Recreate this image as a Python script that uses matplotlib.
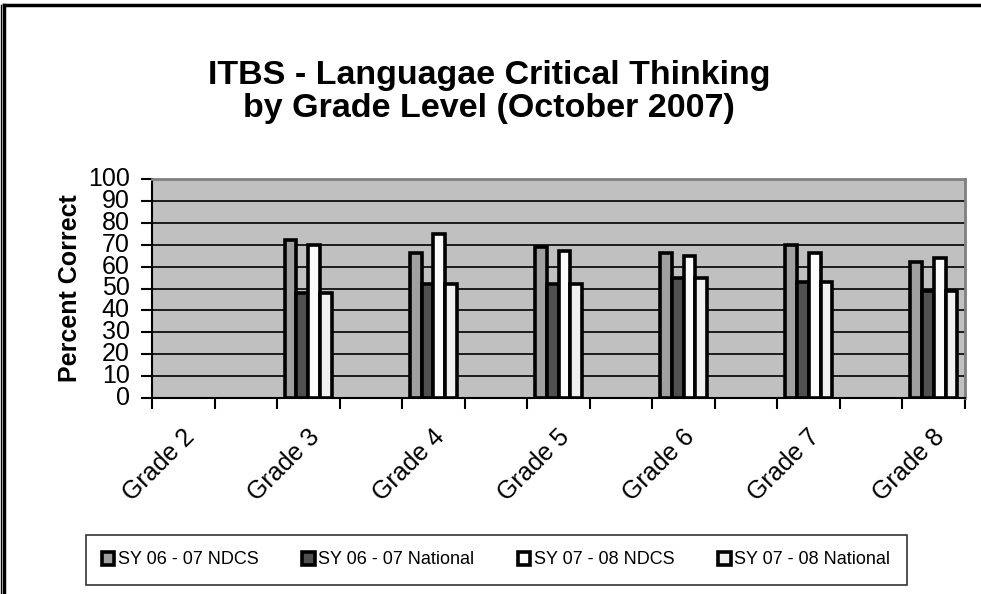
import numpy as np
import matplotlib.pyplot as plt
import matplotlib.transforms as mtransforms
from matplotlib.lines import Line2D

plt.rcParams['font.family'] = ['Liberation Sans', 'DejaVu Sans']

grades = ['Grade 2', 'Grade 3', 'Grade 4', 'Grade 5', 'Grade 6', 'Grade 7', 'Grade 8']
ndcs_0607 = [np.nan, 72, 66, 69, 66, 70, 62]
national_0607 = [np.nan, 48, 52, 52, 55, 53, 49]
ndcs_0708 = [np.nan, 70, 75, 67, 65, 66, 64]
national_0708 = [np.nan, 48, 52, 52, 55, 53, 49]

series = [
    ('SY 06 - 07 NDCS', ndcs_0607, '#a0a0a0'),
    ('SY 06 - 07 National', national_0607, '#505050'),
    ('SY 07 - 08 NDCS', ndcs_0708, '#fbfbfb'),
    ('SY 07 - 08 National', national_0708, '#f0f0f0'),
]

fig = plt.figure(figsize=(9.81, 5.94), dpi=100)
ax = fig.add_axes([152 / 981, 1 - 398 / 594, 813 / 981, 219 / 594])
ax.set_facecolor('#c0c0c0')

# the sheet has an empty column between each grade, so grades sit on every other slot
x = np.arange(len(grades)) * 2
w = 0.19
for i, (name, vals, col) in enumerate(series):
    ax.bar(x + (i - 1.5) * w, vals, w, color=col, edgecolor='black',
           linewidth=2.6, label=name, zorder=3)

ax.set_xlim(-0.5, x[-1] + 0.5)
ax.set_ylim(0, 100)
ax.set_yticks(range(0, 101, 10))
ax.yaxis.grid(True, color='black', linewidth=1.2, zorder=1)

ax.set_xticks(x)
ax.set_xticklabels(grades, rotation=45, ha='right', rotation_mode='anchor', fontsize=18)
ax.set_xticks(np.arange(-0.5, x[-1] + 1), minor=True)
ax.tick_params(axis='x', which='major', length=0, pad=19)
ax.tick_params(axis='x', which='minor', length=8, width=1.5, direction='out')
ax.tick_params(axis='y', length=8, width=1.5, labelsize=18, pad=8)
shift = mtransforms.ScaledTranslation(-1 / 100, 0, fig.dpi_scale_trans)
for lab in ax.get_xticklabels():
    lab.set_transform(lab.get_transform() + shift)
for lab in ax.get_yticklabels():
    lab.set_verticalalignment('center')

for s in ['left', 'bottom']:
    ax.spines[s].set_linewidth(1.5)
for s in ['top', 'right']:
    ax.spines[s].set_color('#808080')
    ax.spines[s].set_linewidth(2)

ax.set_ylabel('Percent Correct', fontsize=18, fontweight='bold', labelpad=4)

fig.text(489 / 981, 1 - 92 / 594, 'ITBS - Languagae Critical Thinking\nby Grade Level (October 2007)',
         ha='center', va='center', fontsize=24.5, fontweight='bold', linespacing=1.05)

leg = fig.legend(loc='center', bbox_to_anchor=(496 / 981, 1 - 560 / 594), ncol=4,
                 frameon=True, fancybox=False, edgecolor='black', fontsize=13,
                 handlelength=0.7, handleheight=0.7, handletextpad=0.2,
                 columnspacing=2.4, borderpad=0.9)
leg.get_frame().set_linewidth(1.2)

# outer chart border
fig.add_artist(Line2D([4 / 981, 1], [1 - 5 / 594, 1 - 5 / 594], color='black', linewidth=2.5))
fig.add_artist(Line2D([4 / 981, 4 / 981], [0, 1 - 5 / 594], color='black', linewidth=2.5))
fig.add_artist(Line2D([1 / 981, 1 / 981], [0, 1 - 5 / 594], color='black', linewidth=1))

fig.savefig('out.png', dpi=100)
